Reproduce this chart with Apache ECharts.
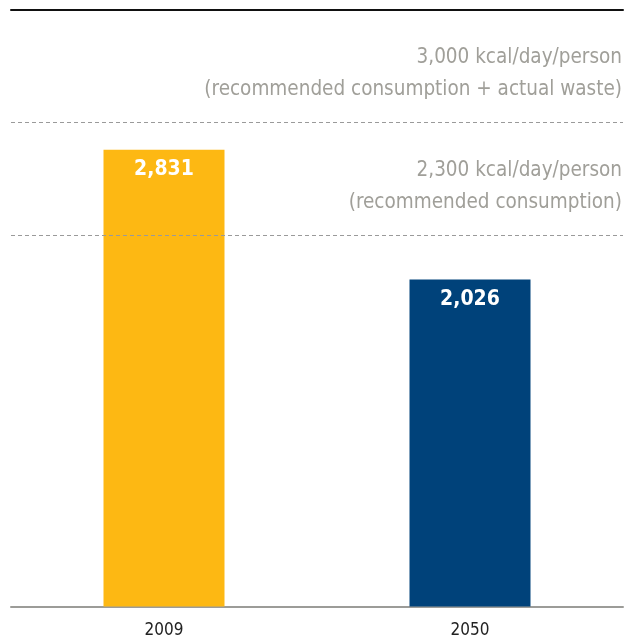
<!DOCTYPE html>
<html>
<head>
<meta charset="utf-8">
<script src="https://cdn.jsdelivr.net/npm/echarts@6/dist/echarts.min.js"></script>
<style>
  html, body { margin: 0; padding: 0; background: #fff; }
  #myChart { width: 633px; height: 641px; }
</style>
</head>
<body>
<div id="myChart"></div>
<script>
// data
const years = ['2009', '2050'];
const kcal = [2831, 2026];
const refValues = [3000, 2300];
const refLabels = [
  '3,000 kcal/day/person\n(recommended consumption + actual waste)',
  '2,300 kcal/day/person\n(recommended consumption)'
];

const barColors = ['#FDB813', '#00427A'];
const font = '"Liberation Sans Narrow", "DejaVu Sans Condensed", "Roboto", sans-serif';

let myChart = echarts.init(document.getElementById('myChart'));

let option = {
  animation: false,
  grid: { left: 11, right: 10, top: 9.5, bottom: 34.5 },
  xAxis: [
    {
      type: 'category',
      data: years,
      axisTick: { show: false },
      axisLine: { lineStyle: { color: '#9c9c98', width: 2 } },
      axisLabel: { color: '#222', fontSize: 17, fontFamily: font, margin: 16 }
    },
    {
      // black rule along the top of the chart
      type: 'category',
      data: years,
      position: 'top',
      axisTick: { show: false },
      axisLabel: { show: false },
      axisLine: { lineStyle: { color: '#111', width: 2 } }
    }
  ],
  yAxis: {
    type: 'value',
    min: 0,
    max: 3700,
    show: false,
    splitLine: { show: false }
  },
  series: [
    {
      type: 'bar',
      barWidth: 121,
      data: kcal.map((v, i) => ({ value: v, itemStyle: { color: barColors[i] } })),
      label: {
        show: true,
        position: 'insideTop',
        distance: 9,
        color: '#fff',
        fontSize: 21,
        fontWeight: 'bold',
        fontFamily: font,
        formatter: p => p.value.toLocaleString('en-US')
      },
      markLine: {
        silent: true,
        symbol: 'none',
        lineStyle: { color: '#9a9a9a', type: [4, 3], width: 1 },
        data: refValues.map((v, i) => ({
          yAxis: v,
          label: {
            show: true,
            position: 'insideEndTop',
            formatter: refLabels[i],
            align: 'right',
            color: '#a09f99',
            fontSize: 20.5,
            lineHeight: 32,
            fontFamily: font,
            distance: [1, 17]
          }
        }))
      }
    }
  ]
};

myChart.setOption(option);
</script>
</body>
</html>
